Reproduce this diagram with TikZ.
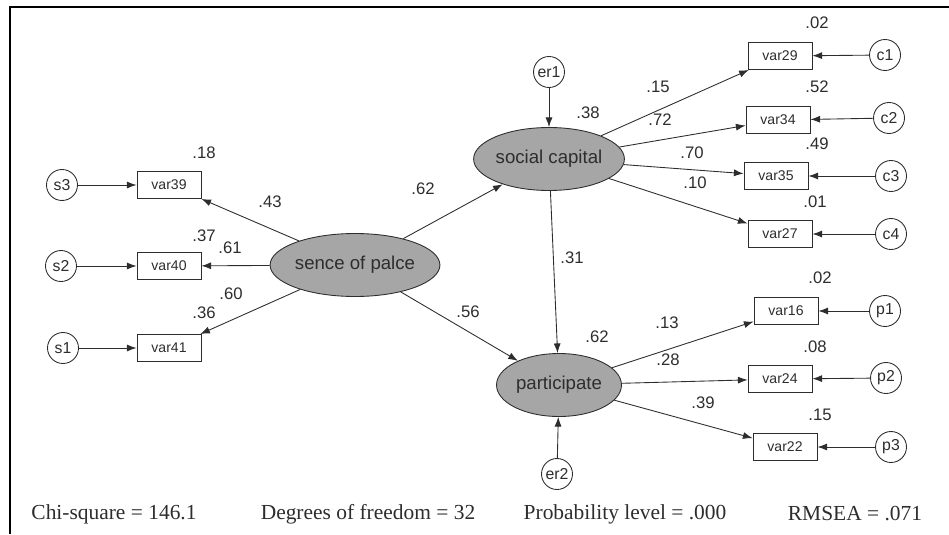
\documentclass[tikz,border=0pt]{standalone}
\usepackage{fontspec}
\setmainfont{Liberation Serif}
\setsansfont{Liberation Sans}
\usetikzlibrary{shapes.geometric,arrows.meta}
\definecolor{latgray}{RGB}{166,166,166}
\definecolor{inkgray}{RGB}{45,45,45}
\tikzset{
	latent/.style={ellipse,draw,fill=latgray,minimum width=2.5cm,minimum height=1.26cm,inner sep=0pt,font=\sffamily\fontsize{10.6}{12}\selectfont},
	observed/.style={rectangle,draw,minimum width=1.28cm,minimum height=0.54cm,inner sep=0pt,font=\sffamily\fontsize{8}{9}\selectfont},
	residual/.style={circle,draw,minimum size=0.62cm,inner sep=0pt,font=\sffamily\fontsize{9}{10}\selectfont},
	coef/.style={inner sep=0pt,font=\sffamily\fontsize{9.5}{11}\selectfont},
	fitstat/.style={inner sep=0pt,font=\fontsize{12.2}{14}\selectfont}
}
\begin{document}
\begin{tikzpicture}[x=0.02cm,y=-0.02cm,line width=0.5pt,draw=inkgray,text=inkgray,>={Latex[length=5.5pt,width=4pt]}]
	\useasboundingbox (0,0) rectangle (949,534);
	\draw[line width=1.4pt,black] (10,534) -- (10,7) -- (949,7);
	\node[latent] (SP) at (355,265) {sence of palce};
	\node[latent] (SC) at (549,159) {social capital};
	\node[latent] (PA) at (559,385) {participate};
	\node[residual] (er1) at (549,72) {er1};
	\node[residual] (er2) at (557,474) {er2};
	\node[observed] (v39) at (169,185) {var39};
	\node[observed] (v40) at (169,266) {var40};
	\node[observed] (v41) at (169,348) {var41};
	\node[residual] (s3) at (62,185) {s3};
	\node[residual] (s2) at (61,266) {s2};
	\node[residual] (s1) at (63,348) {s1};
	\node[observed] (v29) at (780,56) {var29};
	\node[observed] (v34) at (778,120) {var34};
	\node[observed] (v35) at (776,176) {var35};
	\node[observed] (v27) at (780,234) {var27};
	\node[residual] (c1) at (885,55) {c1};
	\node[residual] (c2) at (889,118) {c2};
	\node[residual] (c3) at (891,176) {c3};
	\node[residual] (c4) at (891,234) {c4};
	\node[observed] (v16) at (786,311) {var16};
	\node[observed] (v24) at (780,379) {var24};
	\node[observed] (v22) at (785,447) {var22};
	\node[residual] (p1) at (885,311) {p1};
	\node[residual] (p2) at (886,378) {p2};
	\node[residual] (p3) at (891,447) {p3};
	\draw[->] (s3) -- (v39);
	\draw[->] (s2) -- (v40);
	\draw[->] (s1) -- (v41);
	\draw[->] (SP) -- (v39);
	\draw[->] (SP) -- (v40);
	\draw[->] (SP) -- (v41);
	\draw[->] (SP) -- (SC);
	\draw[->] (SP) -- (PA);
	\draw[->] (SC) -- (PA);
	\draw[->] (er1) -- (SC);
	\draw[->] (er2) -- (PA);
	\draw[->] (SC) -- (v29);
	\draw[->] (SC) -- (v34);
	\draw[->] (SC) -- (v35);
	\draw[->] (SC) -- (v27);
	\draw[->] (c1) -- (v29);
	\draw[->] (c2) -- (v34);
	\draw[->] (c3) -- (v35);
	\draw[->] (c4) -- (v27);
	\draw[->] (PA) -- (v16);
	\draw[->] (PA) -- (v24);
	\draw[->] (PA) -- (v22);
	\draw[->] (p1) -- (v16);
	\draw[->] (p2) -- (v24);
	\draw[->] (p3) -- (v22);
	\node[coef] (r39) at (204,153) {.18};
	\node[coef] (b39) at (270,202) {.43};
	\node[coef] (r40) at (204,236) {.37};
	\node[coef] (b40) at (230,248) {.61};
	\node[coef] (b41) at (231,294) {.60};
	\node[coef] (r41) at (204,313) {.36};
	\node[coef] (bSC) at (423,189) {.62};
	\node[coef] (bPA) at (468,312) {.56};
	\node[coef] (rSC) at (588,113) {.38};
	\node[coef] (bSCPA) at (572,258) {.31};
	\node[coef] (rPA) at (597,337) {.62};
	\node[coef] (b29) at (658,87) {.15};
	\node[coef] (b34) at (660,120) {.72};
	\node[coef] (b35) at (692,153) {.70};
	\node[coef] (b27) at (695,183) {.10};
	\node[coef] (r29) at (817,23) {.02};
	\node[coef] (r34) at (817,87) {.52};
	\node[coef] (r35) at (817,144) {.49};
	\node[coef] (r27) at (815,202) {.01};
	\node[coef] (b16) at (667,323) {.13};
	\node[coef] (b24) at (668,360) {.28};
	\node[coef] (b22) at (703,403) {.39};
	\node[coef] (r16) at (820,278) {.02};
	\node[coef] (r24) at (815,347) {.08};
	\node[coef] (r22) at (820,415) {.15};
	\node[fitstat] (chi) at (114,514) {Chi-square = 146.1};
	\node[fitstat] (df) at (368,514) {Degrees of freedom = 32};
	\node[fitstat] (prob) at (625,514) {Probability level = .000};
	\node[fitstat] (rmsea) at (855,514) {RMSEA = .071};
\end{tikzpicture}
\end{document}
